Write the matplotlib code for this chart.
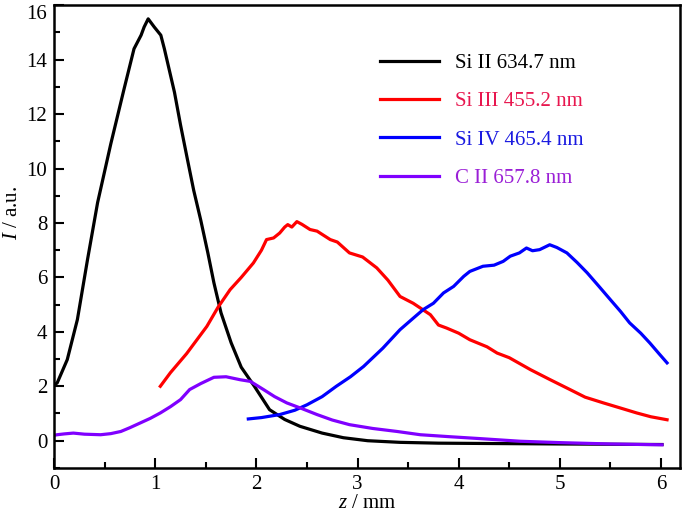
import numpy as np
import matplotlib.pyplot as plt
from matplotlib.ticker import MultipleLocator

plt.rcParams['font.family'] = ['Liberation Serif', 'DejaVu Serif']
plt.rcParams['mathtext.fontset'] = 'custom'
plt.rcParams['mathtext.it'] = 'Liberation Serif:italic'
plt.rcParams['mathtext.rm'] = 'Liberation Serif'

# Si II 634.7 nm
z_si2 = [0.0, 0.03, 0.13, 0.23, 0.33, 0.43, 0.56, 0.69, 0.79, 0.86, 0.89, 0.93,
         0.99, 1.055, 1.09, 1.19, 1.25, 1.32, 1.38, 1.45, 1.52, 1.58, 1.65, 1.75,
         1.85, 1.98, 2.13, 2.28, 2.43, 2.65, 2.86, 3.10, 3.42, 3.8, 4.2, 4.6,
         5.0, 5.5, 6.01]
i_si2 = [2.05, 2.12, 2.98, 4.45, 6.65, 8.75, 10.9, 12.9, 14.4, 14.9, 15.2, 15.5,
         15.2, 14.9, 14.4, 12.8, 11.6, 10.3, 9.2, 8.1, 6.9, 5.8, 4.7, 3.6,
         2.7, 2.0, 1.14, 0.78, 0.53, 0.28, 0.11, 0.0, -0.06, -0.09, -0.1, -0.11,
         -0.12, -0.13, -0.14]

# Si III 455.2 nm
z_si3 = [1.05, 1.15, 1.31, 1.42, 1.51, 1.62, 1.74, 1.85, 1.97, 2.05, 2.10, 2.17,
         2.23, 2.28, 2.31, 2.35, 2.40, 2.45, 2.53, 2.60, 2.73, 2.80, 2.92, 3.05,
         3.19, 3.30, 3.42, 3.55, 3.72, 3.80, 3.88, 4.00, 4.11, 4.28, 4.38, 4.50,
         4.71, 4.90, 5.10, 5.25, 5.43, 5.60, 5.76, 5.90, 6.06]
i_si3 = [2.0, 2.5, 3.2, 3.75, 4.2, 4.9, 5.55, 6.0, 6.53, 7.0, 7.39, 7.45,
         7.63, 7.85, 7.94, 7.85, 8.05, 7.95, 7.76, 7.7, 7.39, 7.3, 6.9, 6.75,
         6.35, 5.9, 5.3, 5.05, 4.63, 4.25, 4.14, 3.95, 3.71, 3.45, 3.22, 3.05,
         2.61, 2.25, 1.88, 1.6, 1.39, 1.2, 1.02, 0.88, 0.77]

# Si IV 465.4 nm
z_si4 = [1.92, 2.05, 2.23, 2.38, 2.50, 2.65, 2.79, 2.93, 3.06, 3.25, 3.42, 3.55,
         3.65, 3.75, 3.85, 3.95, 4.05, 4.11, 4.24, 4.35, 4.44, 4.51, 4.60, 4.67,
         4.73, 4.80, 4.90, 4.97, 5.07, 5.17, 5.27, 5.38, 5.50, 5.60, 5.69, 5.80,
         5.89, 5.98, 6.06]
i_si4 = [0.8, 0.85, 0.96, 1.12, 1.32, 1.62, 2.0, 2.35, 2.73, 3.4, 4.08, 4.5,
         4.82, 5.05, 5.43, 5.67, 6.04, 6.22, 6.41, 6.45, 6.59, 6.78, 6.9, 7.08,
         6.98, 7.02, 7.2, 7.1, 6.9, 6.55, 6.17, 5.7, 5.18, 4.75, 4.33, 3.95,
         3.59, 3.2, 2.86]

# C II 657.8 nm
z_c2 = [0.0, 0.03, 0.10, 0.19, 0.30, 0.46, 0.56, 0.66, 0.75, 0.85, 0.95, 1.05,
        1.15, 1.25, 1.34, 1.45, 1.58, 1.70, 1.84, 1.94, 2.07, 2.18, 2.30, 2.45,
        2.60, 2.75, 2.92, 3.15, 3.39, 3.62, 3.9, 4.2, 4.61, 5.0, 5.5, 6.01]
i_c2 = [0.2, 0.22, 0.25, 0.28, 0.24, 0.22, 0.26, 0.34, 0.48, 0.65, 0.82, 1.02,
        1.25, 1.51, 1.88, 2.1, 2.33, 2.35, 2.24, 2.18, 1.88, 1.62, 1.39, 1.18,
        0.96, 0.76, 0.59, 0.45, 0.34, 0.22, 0.15, 0.08, -0.02, -0.07, -0.12, -0.15]

labels = ['Si II 634.7 nm', 'Si III 455.2 nm', 'Si IV 465.4 nm', 'C II 657.8 nm']
line_colors = ['#000000', '#ff0000', '#0000ff', '#8000ff']
text_colors = ['#000000', '#e8174f', '#1a1ae0', '#9a1fd6']

fig = plt.figure(figsize=(6.85, 5.24), dpi=100)
ax = fig.add_axes([0.079, 0.107, 0.914, 0.883])

for zz, ii, c, lab in zip([z_si2, z_si3, z_si4, z_c2], [i_si2, i_si3, i_si4, i_c2],
                          line_colors, labels):
    ax.plot(zz, ii, color=c, lw=2.3, label=lab)

ax.set_xlim(0, 6.19)
ax.set_ylim(-1, 16)
ax.xaxis.set_major_locator(MultipleLocator(1))
ax.xaxis.set_minor_locator(MultipleLocator(0.5))
ax.yaxis.set_major_locator(MultipleLocator(2))
ax.yaxis.set_minor_locator(MultipleLocator(1))
ax.tick_params(which='both', direction='in', width=1.5, labelsize=15)
ax.tick_params(which='major', length=7, pad=5)
ax.tick_params(which='minor', length=4)
for s in ax.spines.values():
    s.set_linewidth(1.8)

ax.set_xlabel('$z$ / mm', fontsize=15, labelpad=0)
ax.set_ylabel('$I$ / a.u.', fontsize=15)
ax.yaxis.set_label_coords(-0.052, 0.55)

leg = ax.legend(loc='upper left', bbox_to_anchor=(0.521, 0.896), frameon=False,
                fontsize=15, handlelength=2.8, handletextpad=0.8, labelspacing=0.9,
                borderpad=0, borderaxespad=0)
for t, c in zip(leg.get_texts(), text_colors):
    t.set_color(c)

# top label sits just under its tick, as in the original
fig.canvas.draw()
for t in ax.get_yticklabels():
    if t.get_text() == '16':
        t.set_va('top')

fig.savefig('out.png', dpi=100)
